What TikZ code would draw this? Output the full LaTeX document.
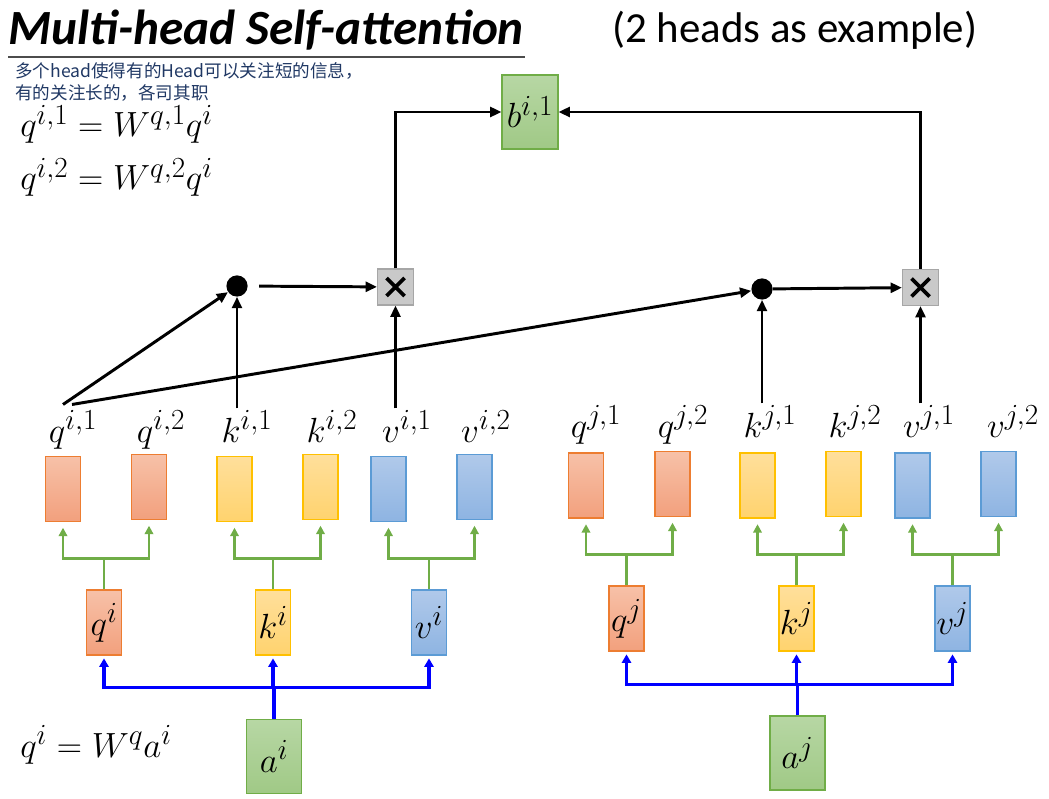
\documentclass[tikz,border=0pt]{standalone}
\usepackage{fontspec}
\setmainfont{Carlito}
\newfontfamily\cjkfont{Noto Sans CJK SC}
\usepackage{tikz}
\usetikzlibrary{calc, arrows.meta, positioning}
\definecolor{QOrange}{RGB}{237, 125, 49}
\definecolor{QOrangeL}{RGB}{247, 193, 168}
\definecolor{QOrangeD}{RGB}{242, 160, 125}
\definecolor{KYellow}{RGB}{255, 192, 0}
\definecolor{KYellowL}{RGB}{255, 223, 155}
\definecolor{KYellowD}{RGB}{255, 211, 110}
\definecolor{VBlue}{RGB}{91, 155, 213}
\definecolor{VBlueL}{RGB}{176, 201, 234}
\definecolor{VBlueD}{RGB}{142, 180, 226}
\definecolor{AGreen}{RGB}{112, 173, 71}
\definecolor{AGreenL}{RGB}{183, 215, 164}
\definecolor{AGreenD}{RGB}{160, 201, 134}
\definecolor{TGray}{RGB}{201, 201, 201}
\definecolor{CNBlue}{RGB}{32, 56, 100}

\tikzset{
  vec/.style={inner sep=0pt, line width=0.8pt, minimum width=0.875cm, minimum height=1.625cm},
  qbox/.style={vec, draw=QOrange, top color=QOrangeL, bottom color=QOrangeD},
  kbox/.style={vec, draw=KYellow, top color=KYellowL, bottom color=KYellowD},
  vbox/.style={vec, draw=VBlue, top color=VBlueL, bottom color=VBlueD},
  abox/.style={vec, draw=AGreen, top color=AGreenL, bottom color=AGreenD, minimum width=1.375cm, minimum height=1.85cm},
  tbox/.style={draw=black!35, fill=TGray, line width=0.8pt, minimum size=0.9cm, inner sep=0pt,
    path picture={\draw[black, line width=2.6pt] ($(path picture bounding box.center)+(-9,-9)$) -- ($(path picture bounding box.center)+(9,9)$)
      ($(path picture bounding box.center)+(-9,9)$) -- ($(path picture bounding box.center)+(9,-9)$);}},
  dot/.style={circle, fill=black, minimum size=0.53cm, inner sep=0pt},
  lbl/.style={inner sep=1pt, anchor=base},
  eqn/.style={font=\fontsize{30.5}{34}\selectfont, anchor=base west, inner sep=0pt},
  arr/.style={line width=2.1pt, -{Triangle[length=8pt,width=7pt]}},
  garr/.style={draw=AGreen, line width=1.8pt, -{Triangle[length=6pt,width=6pt]}, shorten >=4pt},
  gline/.style={draw=AGreen, line width=1.8pt},
  barr/.style={draw=blue, line width=2.2pt, -{Triangle[length=6pt,width=6.5pt]}, shorten >=2pt},
  bline/.style={draw=blue, line width=2.2pt}
}

\begin{document}
\begin{tikzpicture}[x=0.025cm, y=-0.025cm, every node/.style={font=\fontsize{30}{34}\selectfont}]
\useasboundingbox (0,0) rectangle (1049,799);

% title and notes
\node[font=\fontsize{35}{40}\selectfont\bfseries\itshape, anchor=base west, inner sep=0pt] (title) at (8,45) {Multi-head Self-attention};
\draw[line width=1.2pt, black!70] (8,57) -- (525,57);
\node[font=\fontsize{30.5}{34}\selectfont, anchor=base west, inner sep=0pt] (note) at (612,43) {(2 heads as example)};
\node[font=\cjkfont\fontsize{12.5}{15.5}\selectfont, text=CNBlue, anchor=north west, align=left, inner sep=0pt] (cn) at (15,62) {多个head使得有的Head可以关注短的信息，\\有的关注长的，各司其职};
\node[eqn] (eq1) at (20,137) {$q^{i,1} = W^{q,1}q^{i}$};
\node[eqn] (eq2) at (20,190) {$q^{i,2} = W^{q,2}q^{i}$};
\node[eqn] (eq3) at (20,757) {$q^{i} = W^{q}a^{i}$};

% head i
\node[abox] (ai) at (274,756.5) {$a^{i}$};
\node[qbox] (qi) at (104,622.5) {$q^{i}$};
\node[kbox] (ki) at (273,622.5) {$k^{i}$};
\node[vbox] (vi) at (429,622.5) {$v^{i}$};
\node[qbox] (q11) at (63,489) {};
\node[qbox] (q12) at (149,487) {};
\node[kbox] (k11) at (234.5,489) {};
\node[kbox] (k12) at (320.5,487) {};
\node[vbox] (v11) at (388.5,489) {};
\node[vbox] (v12) at (474.5,487) {};
\node[lbl] (lq11) at (73,442) {$q^{i,1}$};
\node[lbl] (lq12) at (161,442) {$q^{i,2}$};
\node[lbl] (lk11) at (247,442) {$k^{i,1}$};
\node[lbl] (lk12) at (332,442) {$k^{i,2}$};
\node[lbl] (lv11) at (407,442) {$v^{i,1}$};
\node[lbl] (lv12) at (486,442) {$v^{i,2}$};

\draw[bline] (ai.north) -- ++(0,-31) coordinate (aib);
\draw[barr] (aib) -| (qi.south);
\draw[barr] (aib) -| (ki.south);
\draw[barr] (aib) -| (vi.south);
\draw[gline] (qi.north) -- ++(0,-31) coordinate (qib);
\draw[garr] (qib) -| (q11.south);
\draw[garr] (qib) -| (q12.south);
\draw[gline] (ki.north) -- ++(0,-31) coordinate (kib);
\draw[garr] (kib) -| (k11.south);
\draw[garr] (kib) -| (k12.south);
\draw[gline] (vi.north) -- ++(0,-31) coordinate (vib);
\draw[garr] (vib) -| (v11.south);
\draw[garr] (vib) -| (v12.south);

% head j
\node[abox] (aj) at (797.5,753) {$a^{j}$};
\node[qbox] (qj) at (626.5,618.5) {$q^{j}$};
\node[kbox] (kj) at (796.5,618.5) {$k^{j}$};
\node[vbox] (vj) at (952.5,618.5) {$v^{j}$};
\node[qbox] (q21) at (586,485.5) {};
\node[qbox] (q22) at (672.5,484) {};
\node[kbox] (k21) at (757.5,485.5) {};
\node[kbox] (k22) at (843.5,484) {};
\node[vbox] (v21) at (912.5,485.5) {};
\node[vbox] (v22) at (998.5,484) {};
\node[lbl] (lq21) at (596,437) {$q^{j,1}$};
\node[lbl] (lq22) at (683,437) {$q^{j,2}$};
\node[lbl] (lk21) at (770,437) {$k^{j,1}$};
\node[lbl] (lk22) at (855,437) {$k^{j,2}$};
\node[lbl] (lv21) at (929,437) {$v^{j,1}$};
\node[lbl] (lv22) at (1013,437) {$v^{j,2}$};

\draw[bline] (aj.north) -- ++(0,-31) coordinate (ajb);
\draw[barr] (ajb) -| (qj.south);
\draw[barr] (ajb) -| (kj.south);
\draw[barr] (ajb) -| (vj.south);
\draw[gline] (qj.north) -- ++(0,-31) coordinate (qjb);
\draw[garr] (qjb) -| (q21.south);
\draw[garr] (qjb) -| (q22.south);
\draw[gline] (kj.north) -- ++(0,-31) coordinate (kjb);
\draw[garr] (kjb) -| (k21.south);
\draw[garr] (kjb) -| (k22.south);
\draw[gline] (vj.north) -- ++(0,-31) coordinate (vjb);
\draw[garr] (vjb) -| (v21.south);
\draw[garr] (vjb) -| (v22.south);

% attention head 1
\node[dot] (d1) at (237,286) {};
\node[tbox] (t1) at (395.5,287) {};
\node[dot] (d2) at (762,289) {};
\node[tbox] (t2) at (920.5,287.5) {};
\node[abox, minimum width=1.4cm] (b) at (530,112) {$b^{i,1}$};

\coordinate (qs1) at ($(lq11.north)+(-10,-4)$);
\coordinate (qs2) at ($(lq11.north)+(-1,-4)$);
\draw[arr] (qs1) -- (d1);
\draw[arr] (qs2) -- (d2);
\draw[arr] (d1 |- lk11.north) -- (d1.south);
\draw[arr] (t1 |- lv11.north) -- (t1.south);
\draw[arr] (d2 |- lk21.north) -- (d2.south);
\draw[arr] (t2 |- lv21.north) -- (t2.south);
\draw[arr, shorten <=8pt] (d1) -- (t1);
\draw[arr] (d2) -- (t2);
\draw[arr] (t1.north) |- (b.west);
\draw[arr] (t2.north) |- (b.east);
\end{tikzpicture}
\end{document}
